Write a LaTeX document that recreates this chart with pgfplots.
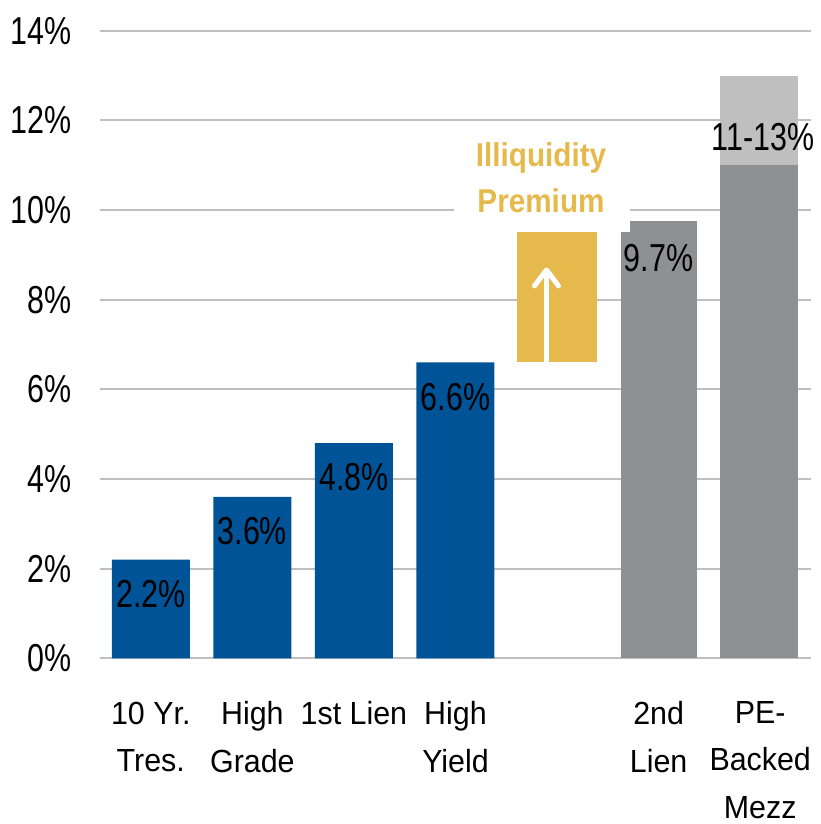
\documentclass[border=0pt]{standalone}
\usepackage{fontspec}
\setmainfont{Liberation Sans}
\newfontfamily\tickfont{Liberation Sans}[FakeStretch=0.78]
\newfontfamily\catfont{Liberation Sans}[FakeStretch=0.95]
\newfontfamily\goldfont{Liberation Sans}[FakeStretch=0.9]
\usepackage{pgfplots}
\pgfplotsset{compat=1.18}
\usetikzlibrary{arrows.meta}
\definecolor{cblue}{RGB}{0,83,150}
\definecolor{cgray}{RGB}{142,145,148}
\definecolor{clgray}{RGB}{191,191,191}
\definecolor{cgold}{RGB}{230,185,76}
\definecolor{cgrid}{RGB}{191,191,191}
\begin{document}
\begin{tikzpicture}
\useasboundingbox (0,0) rectangle (410pt,412pt);
\begin{axis}[
  at={(50pt,82.85pt)}, anchor=south west,
  scale only axis, width=355.5pt, height=313.8pt,
  xmin=-0.5, xmax=6.5, ymin=0, ymax=14,
  ytick={0,2,...,14},
  yticklabel={\pgfmathprintnumber{\tick}\%},
  /pgf/number format/assume math mode=true,
  ymajorgrids, grid style={cgrid, line width=1pt},
  axis line style={draw=none},
  major tick style={draw=none},
  xtick={0,...,6},
  xticklabels={{10 Yr.\\Tres.},{High\\Grade},{1st Lien},{High\\Yield},{},{2nd\\Lien},{PE-\\Backed\\Mezz}},
  xticklabel style={align=center, inner sep=0pt, yshift=-21.5pt, font=\catfont\fontsize{16}{23.6}\selectfont},
  yticklabel style={inner sep=0pt, xshift=-14pt, font=\tickfont\fontsize{19.5}{22}\selectfont},
  clip=false,
]
\addplot[ybar, bar width=39pt, bar shift=0pt, fill=cblue, draw=none,
  point meta=explicit symbolic,
  nodes near coords={\pgfplotspointmeta\%},
  every node near coord/.append style={anchor=north, inner sep=0pt, yshift=-10pt, text=black, font=\tickfont\fontsize{19.5}{22}\selectfont}]
  coordinates {(0,2.2)[2.2] (1,3.6)[3.6] (2,4.8)[4.8] (3,6.6)[6.6]};
\addplot[fill=cgold, draw=none] coordinates {(3.605,6.6) (4.393,6.6) (4.393,9.5) (3.605,9.5)} -- cycle;
\addplot[white, line width=2.5pt, -{Straight Barb[length=8pt,width=12pt,round]}] coordinates {(3.896,6.6) (3.896,8.72)};
\addplot[ybar, bar width=38pt, bar shift=0pt, fill=cgray, draw=none] coordinates {(5,9.5)};
\addplot[ybar, bar width=33.5pt, bar shift=2.4pt, fill=cgray, draw=none] coordinates {(5,9.75)};
\addplot[ybar, bar width=39pt, bar shift=-0.5pt, fill=clgray, draw=none] coordinates {(6,13)};
\addplot[ybar, bar width=39pt, bar shift=-0.5pt, fill=cgray, draw=none] coordinates {(6,11)};
\node[fill=white, inner sep=0pt, minimum width=88pt, minimum height=4pt] at (axis cs:3.852,10) {};
\node[anchor=base, text=cgold, font=\goldfont\bfseries\fontsize{16.5}{20}\selectfont, inner sep=0pt] at (axis cs:3.842,10.98) {Illiquidity};
\node[anchor=base, text=cgold, font=\goldfont\bfseries\fontsize{16.5}{20}\selectfont, inner sep=0pt] at (axis cs:3.842,9.935) {Premium};
\node[anchor=north, inner sep=0pt, yshift=-10pt, font=\tickfont\fontsize{19.5}{22}\selectfont] at (axis cs:5,9.7) {9.7\%};
\node[anchor=north, inner sep=0pt, yshift=-1.3pt, xshift=1.5pt, font=\tickfont\fontsize{19.5}{22}\selectfont] at (axis cs:6,12) {11-13\%};
\end{axis}
\end{tikzpicture}
\end{document}
